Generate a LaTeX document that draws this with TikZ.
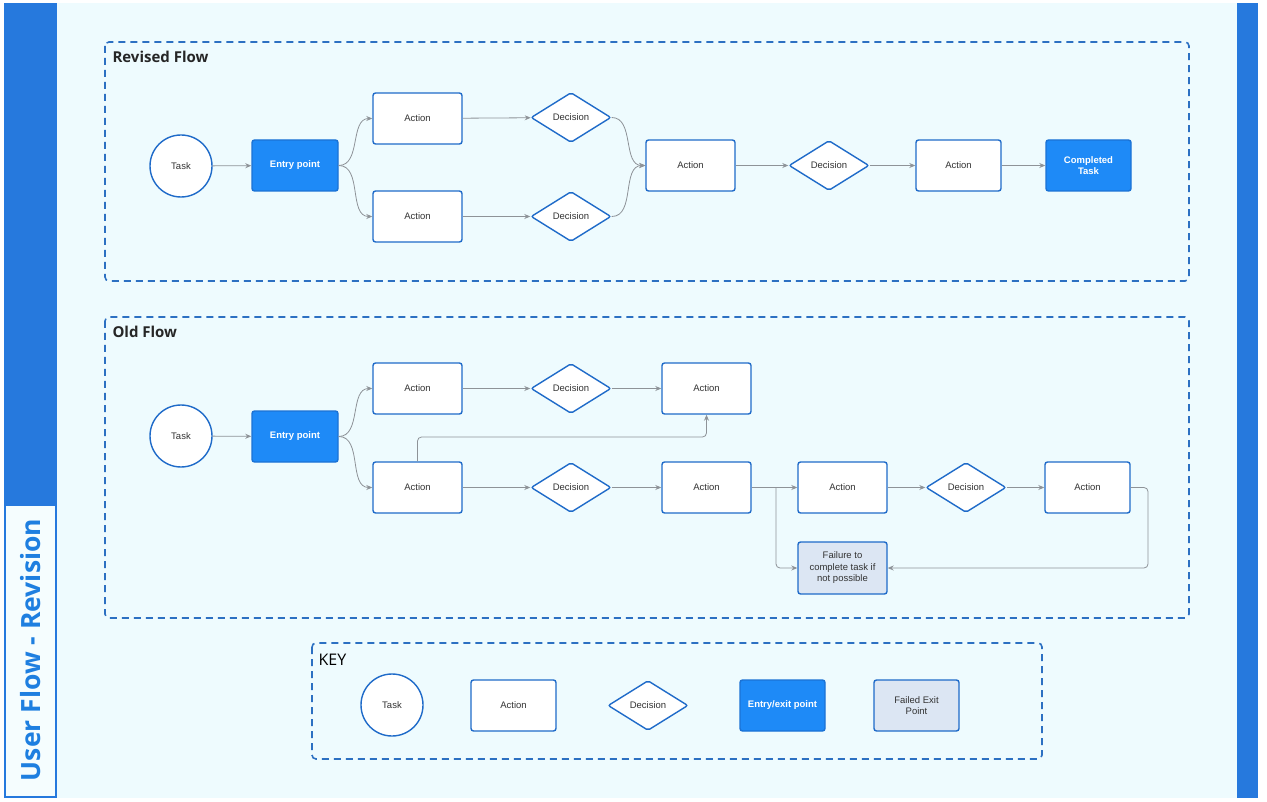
\documentclass[tikz,border=0pt]{standalone}
\usepackage{fontspec}
\setmainfont{Liberation Sans}
\newfontfamily\titlefont{Open Sans}
\usetikzlibrary{shapes.geometric, arrows.meta}

\definecolor{pagebg}{HTML}{EEFBFE}
\definecolor{barblue}{HTML}{2679DD}
\definecolor{nodeblue}{HTML}{1F6BC9}
\definecolor{entryblue}{HTML}{1E8AF7}
\definecolor{entryedge}{HTML}{1B72D4}
\definecolor{failfill}{HTML}{DCE6F3}
\definecolor{arrowgray}{HTML}{8E9398}
\definecolor{frameblue}{HTML}{2C70C2}
\definecolor{txt}{HTML}{333333}
\definecolor{sidetxt}{HTML}{1E7FE0}

\begin{document}
\begin{tikzpicture}[x=1pt, y=-1pt, >={Stealth[length=6pt, width=5pt]},
    every node/.style={font=\fontsize{9.5}{11.5}\selectfont, text=txt},
    task/.style={circle, draw=nodeblue, line width=1.4pt, fill=white, minimum size=62pt, inner sep=0pt},
    action/.style={rectangle, rounded corners=2.5pt, draw=nodeblue, line width=1.4pt, fill=white,
        minimum width=89pt, minimum height=51pt, inner sep=0pt, align=center},
    decision/.style={diamond, aspect=1.6, rounded corners=2pt, draw=nodeblue, line width=1.4pt, fill=white,
        minimum width=80pt, minimum height=50pt, inner sep=0pt},
    entry/.style={action, fill=entryblue, draw=entryedge, text=white, font=\fontsize{9.5}{11.5}\selectfont\bfseries},
    failed/.style={action, fill=failfill},
    flow/.style={->, draw=arrowgray, line width=0.8pt},
    frame/.style={draw=frameblue, line width=1.6pt, dash pattern=on 7pt off 5pt, rounded corners=4pt},
    title/.style={anchor=west, text=black!85, font=\titlefont\bfseries\fontsize{15}{18}\selectfont}]

    \useasboundingbox (0,0) rectangle (1267,802);
    \fill[white] (0,0) rectangle (1267,802);
    \fill[pagebg] (4,3) rectangle (1258,798);

    % side bars
    \fill[barblue] (4,3) rectangle (57,505);
    \fill[barblue] (1237,3) rectangle (1258,798);
    \draw[barblue, line width=1.4pt, fill=pagebg!60!white] (5,505) rectangle (56,797);
    \node[rotate=90, text=sidetxt, font=\titlefont\bfseries\fontsize{26.5}{31}\selectfont] (side) at (31,650) {User Flow - Revision};

    % frames
    \draw[frame] (105,42) rectangle (1189,281);
    \draw[frame] (105,317) rectangle (1189,618);
    \draw[frame] (312,643) rectangle (1042,759);
    \node[title] (revtitle) at (109,57) {Revised Flow};
    \node[title] (oldtitle) at (109,332) {Old Flow};
    \node[title, text=black, font=\titlefont\fontsize{16}{19}\selectfont] (keytitle) at (315,660) {KEY};

    % Revised flow
    \node[task] (rtask) at (181,166) {Task};
    \node[entry, minimum width=86pt] (rentry) at (295,165.5) {Entry point};
    \node[action] (ra1) at (417.5,118.5) {Action};
    \node[action] (ra2) at (417.5,216.5) {Action};
    \node[decision] (rd1) at (571,117.5) {Decision};
    \node[decision] (rd2) at (571,216.5) {Decision};
    \node[action] (ra3) at (690.5,165.5) {Action};
    \node[decision] (rd3) at (829,165.5) {Decision};
    \node[action, minimum width=85pt] (ra4) at (958.5,165.5) {Action};
    \node[entry, minimum width=85pt] (rdone) at (1088.5,165.5) {Completed\\Task};

    \draw[flow] (rtask) -- (rentry);
    \draw[flow] (rentry.east) to[out=0, in=180] (ra1.west);
    \draw[flow] (rentry.east) to[out=0, in=180] (ra2.west);
    \draw[flow] (ra1) -- (rd1);
    \draw[flow] (ra2) -- (rd2);
    \draw[flow] (rd1.east) to[out=0, in=180] (ra3.west);
    \draw[flow] (rd2.east) to[out=0, in=180] (ra3.west);
    \draw[flow] (ra3) -- (rd3);
    \draw[flow] (rd3) -- (ra4);
    \draw[flow] (ra4) -- (rdone);

    % Old flow
    \node[task] (otask) at (181,436) {Task};
    \node[entry, minimum width=86pt] (oentry) at (295,436.5) {Entry point};
    \node[action] (oa1) at (417.5,388.5) {Action};
    \node[decision] (od1) at (571,388.5) {Decision};
    \node[action] (oa2) at (706.5,388.5) {Action};
    \node[action] (oa3) at (417.5,487.5) {Action};
    \node[decision] (od2) at (571,487.5) {Decision};
    \node[action] (oa4) at (706.5,487.5) {Action};
    \node[action] (oa5) at (842.5,487.5) {Action};
    \node[decision] (od3) at (966,487.5) {Decision};
    \node[action, minimum width=85pt] (oa6) at (1087.5,487.5) {Action};
    \node[failed, minimum height=52pt] (ofail) at (842.5,568) {Failure to\\complete task if\\not possible};
    \coordinate (obend) at (417.5,437);
    \coordinate (osplit) at (776,487.5);
    \coordinate (oturn) at (1148,487.5);

    \draw[flow] (otask) -- (oentry);
    \draw[flow] (oentry.east) to[out=0, in=180] (oa1.west);
    \draw[flow] (oentry.east) to[out=0, in=180] (oa3.west);
    \draw[flow] (oa1) -- (od1);
    \draw[flow] (od1) -- (oa2);
    \draw[flow, rounded corners=4pt] (oa3.north) -- (obend) -| (oa2.south);
    \draw[flow] (oa3) -- (od2);
    \draw[flow] (od2) -- (oa4);
    \draw[flow] (oa4) -- (oa5);
    \draw[flow, rounded corners=4pt] (osplit) |- (ofail.west);
    \draw[flow] (oa5) -- (od3);
    \draw[flow] (od3) -- (oa6);
    \draw[flow, rounded corners=4pt] (oa6.east) -- (oturn) |- (ofail.east);

    % Key
    \node[task] (ktask) at (392,705) {Task};
    \node[action, minimum width=85pt] (kaction) at (513.5,705.5) {Action};
    \node[decision] (kdecision) at (648,705.5) {Decision};
    \node[entry, minimum width=85pt] (kentry) at (782.5,705.5) {Entry/exit point};
    \node[failed, minimum width=85pt] (kfail) at (916.5,705.5) {Failed Exit\\Point};
\end{tikzpicture}
\end{document}
